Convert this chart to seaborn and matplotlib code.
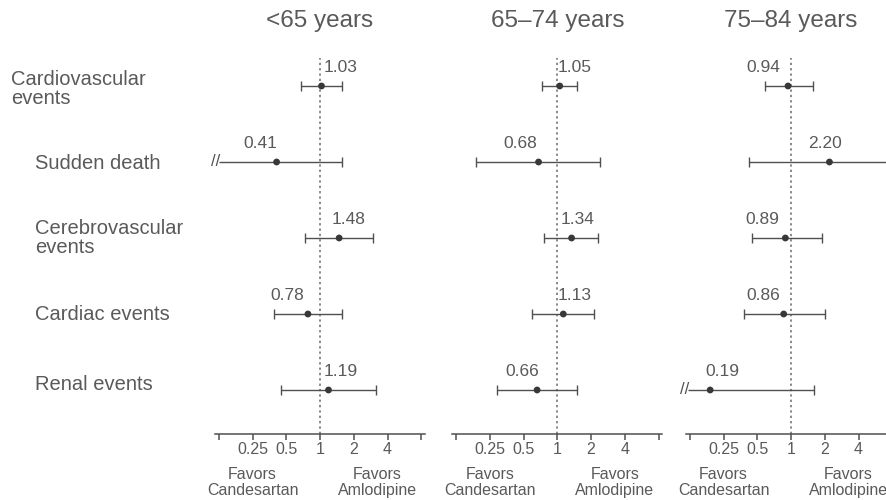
import numpy as np
import pandas as pd
import matplotlib
matplotlib.use('Agg')
import matplotlib.pyplot as plt
import seaborn as sns

sns.set_theme(style='white')
plt.rcParams['font.family'] = ['Liberation Sans', 'DejaVu Sans']

# ---- data ----
outcomes = ['Cardiovascular\nevents', 'Sudden death', 'Cerebrovascular\nevents',
            'Cardiac events', 'Renal events']
age_groups = ['<65 years', '65\u201374 years', '75\u201384 years']

hr_lt65 = [1.03, 0.41, 1.48, 0.78, 1.19]
lo_lt65 = [0.67, 0.125, 0.74, 0.39, 0.45]
hi_lt65 = [1.58, 1.58, 2.97, 1.58, 3.18]
cut_lt65 = [False, True, False, False, False]

hr_65_74 = [1.05, 0.68, 1.34, 1.13, 0.66]
lo_65_74 = [0.73, 0.19, 0.76, 0.59, 0.29]
hi_65_74 = [1.49, 2.41, 2.30, 2.13, 1.49]
cut_65_74 = [False, False, False, False, False]

hr_75_84 = [0.94, 2.20, 0.89, 0.86, 0.19]
lo_75_84 = [0.59, 0.42, 0.45, 0.38, 0.12]
hi_75_84 = [1.57, 7.2, 1.90, 2.00, 1.60]
cut_75_84 = [False, False, False, False, True]

tick_vals = [0.125, 0.25, 0.5, 1, 2, 4, 8]
tick_labels = ['', '0.25', '0.5', '1', '2', '4', '']

# label nudges (points) relative to the marker, per panel
label_dx = [[14, -11.5, 6.5, -15, 9],
            [11, -13.5, 4, 8.5, -11],
            [-18, -3.5, -16.5, -15, 8.5]]

panels = [(hr_lt65, lo_lt65, hi_lt65, cut_lt65),
          (hr_65_74, lo_65_74, hi_65_74, cut_65_74),
          (hr_75_84, lo_75_84, hi_75_84, cut_75_84)]

text_c = '#5a5a5a'
line_c = '#505050'

W, H = 886, 500
fig = plt.figure(figsize=(W / 100, H / 100), dpi=100)

ax_w = 210 / W
ax_bottom = 1 - 434 / H
ax_h = (434 - 58) / H
lefts = [214.7 / W, 452 / W, 685.7 / W]

for i, (hr, lo, hi, cut) in enumerate(panels):
    ax = fig.add_axes([lefts[i], ax_bottom, ax_w, ax_h])
    df = pd.DataFrame({'hr': hr, 'lo': lo, 'hi': hi, 'row': range(len(outcomes)), 'cut': cut})

    ax.axvline(1, color='#6a6a6a', ls=(0, (1.5, 2)), lw=1.1, zorder=1)
    ax.hlines(df['row'], df['lo'], df['hi'], color=line_c, lw=1.0, zorder=2)
    ax.plot(df['hi'], df['row'], ls='none', marker='|', ms=7, mew=1.0, color=line_c)
    keep = df[~df['cut']]
    ax.plot(keep['lo'], keep['row'], ls='none', marker='|', ms=7, mew=1.0, color=line_c)
    for _, r in df[df['cut']].iterrows():
        ax.annotate('//', (r['lo'], r['row']), xytext=(1, 0), textcoords='offset points',
                    ha='right', va='center', fontsize=12, color=line_c)
    sns.scatterplot(data=df, x='hr', y='row', ax=ax, color='#383838', s=24,
                    edgecolor='none', zorder=3, legend=False)

    for j, r in df.iterrows():
        ax.annotate(f"{r['hr']:.2f}", (r['hr'], r['row']), xytext=(label_dx[i][j], 13),
                    textcoords='offset points', ha='center', va='center',
                    fontsize=12.5, color=text_c)

    ax.set_xscale('log', base=2)
    ax.set_xlim(2 ** -3.12, 2 ** 3.1)
    ax.set_ylim(4 + 44 / 76, -28 / 76)
    ax.set_xticks(tick_vals)
    ax.set_xticklabels(tick_labels)
    ax.minorticks_off()
    ax.set_yticks([])
    ax.set_xlabel('')
    ax.set_ylabel('')
    for s in ['top', 'right', 'left']:
        ax.spines[s].set_visible(False)
    ax.spines['bottom'].set_color(line_c)
    ax.spines['bottom'].set_linewidth(1.1)
    ax.tick_params(axis='x', direction='out', length=4, width=1.1, color=line_c,
                   labelcolor=text_c, labelsize=11.5, pad=2, bottom=True)
    ax.patch.set_alpha(0)

    ax.text(1, 1 + 37 / 376, age_groups[i], transform=ax.get_xaxis_transform(),
            ha='center', va='center', fontsize=17.5, color=text_c)
    ax.text(2 ** -2.0, -0.128, 'Favors\nCandesartan', transform=ax.get_xaxis_transform(),
            ha='center', va='center', fontsize=11.5, color=text_c, linespacing=1.1)
    ax.text(2 ** 1.7, -0.128, 'Favors\nAmlodipine', transform=ax.get_xaxis_transform(),
            ha='center', va='center', fontsize=11.5, color=text_c, linespacing=1.1)

# row labels
row_y = [89, 163, 238, 314, 385]
row_x = [11, 35, 35, 35, 35]
for lab, x, y in zip(outcomes, row_x, row_y):
    fig.text(x / W, 1 - y / H, lab, ha='left', va='center', fontsize=14.5,
             color=text_c, linespacing=1.0)

fig.savefig('out.png', dpi=100)
